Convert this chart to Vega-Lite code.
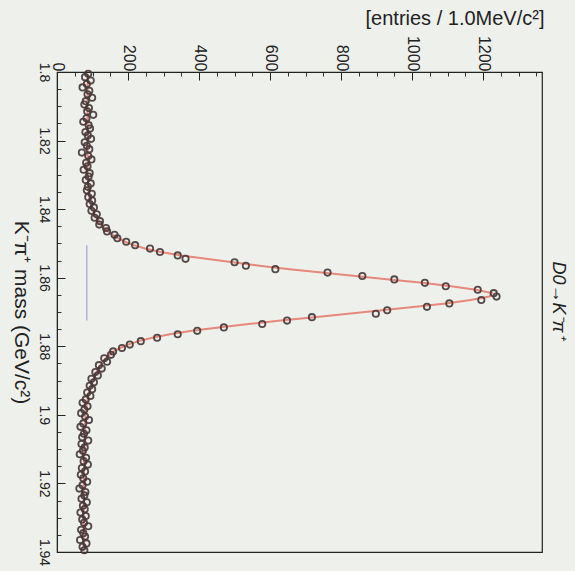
{
  "$schema": "https://vega.github.io/schema/vega-lite/v6.json",
  "width": 485,
  "height": 480,
  "autosize": {"type": "none"},
  "padding": {"left": 57, "top": 72, "right": 33, "bottom": 19},
  "background": "#eef0ec",
  "config": {
    "font": "Liberation Sans",
    "view": {"stroke": "#222222", "strokeWidth": 1.2, "fill": "#eef0ec"}
  },
  "title": {
    "text": "D0→K⁻π⁺",
    "orient": "right",
    "anchor": "middle",
    "fontSize": 18,
    "fontStyle": "italic",
    "fontWeight": "normal",
    "color": "#222222",
    "offset": 5,
    "dx": -12
  },
  "datasets": {
    "bg": [
      {"m": 1.8505, "bg": 84},
      {"m": 1.8725, "bg": 84}
    ],
    "mass": [
      {"m": 1.8005, "n": 88, "fit": 86}, {"m": 1.8015, "n": 79, "fit": 86}, {"m": 1.8025, "n": 95, "fit": 86}, {"m": 1.8035, "n": 84, "fit": 86},
      {"m": 1.8045, "n": 72, "fit": 86}, {"m": 1.8055, "n": 91, "fit": 86}, {"m": 1.8065, "n": 86, "fit": 86}, {"m": 1.8075, "n": 99, "fit": 86},
      {"m": 1.8085, "n": 81, "fit": 86}, {"m": 1.8095, "n": 77, "fit": 86}, {"m": 1.8105, "n": 90, "fit": 86}, {"m": 1.8115, "n": 85, "fit": 86},
      {"m": 1.8125, "n": 102, "fit": 86}, {"m": 1.8135, "n": 83, "fit": 86}, {"m": 1.8145, "n": 74, "fit": 86}, {"m": 1.8155, "n": 89, "fit": 86},
      {"m": 1.8165, "n": 93, "fit": 86}, {"m": 1.8175, "n": 80, "fit": 86}, {"m": 1.8185, "n": 87, "fit": 86}, {"m": 1.8195, "n": 96, "fit": 86},
      {"m": 1.8205, "n": 78, "fit": 86}, {"m": 1.8215, "n": 84, "fit": 86}, {"m": 1.8225, "n": 91, "fit": 86}, {"m": 1.8235, "n": 70, "fit": 86},
      {"m": 1.8245, "n": 88, "fit": 86}, {"m": 1.8255, "n": 97, "fit": 86}, {"m": 1.8265, "n": 82, "fit": 86}, {"m": 1.8275, "n": 86, "fit": 86},
      {"m": 1.8285, "n": 75, "fit": 86}, {"m": 1.8295, "n": 92, "fit": 86}, {"m": 1.8305, "n": 89, "fit": 87}, {"m": 1.8315, "n": 81, "fit": 87},
      {"m": 1.8325, "n": 95, "fit": 88}, {"m": 1.8335, "n": 87, "fit": 88}, {"m": 1.8345, "n": 84, "fit": 89}, {"m": 1.8355, "n": 98, "fit": 90},
      {"m": 1.8365, "n": 88, "fit": 91}, {"m": 1.8375, "n": 99, "fit": 93}, {"m": 1.8385, "n": 92, "fit": 95}, {"m": 1.8395, "n": 104, "fit": 98},
      {"m": 1.8405, "n": 97, "fit": 102}, {"m": 1.8415, "n": 112, "fit": 106}, {"m": 1.8425, "n": 106, "fit": 111}, {"m": 1.8435, "n": 121, "fit": 117},
      {"m": 1.8445, "n": 119, "fit": 124}, {"m": 1.8455, "n": 138, "fit": 133}, {"m": 1.8465, "n": 141, "fit": 144}, {"m": 1.8475, "n": 162, "fit": 157},
      {"m": 1.8485, "n": 170, "fit": 173}, {"m": 1.8495, "n": 195, "fit": 192}, {"m": 1.8505, "n": 220, "fit": 216}, {"m": 1.8515, "n": 262, "fit": 248},
      {"m": 1.8525, "n": 290, "fit": 292}, {"m": 1.8535, "n": 340, "fit": 350}, {"m": 1.8545, "n": 362, "fit": 420}, {"m": 1.8555, "n": 500, "fit": 495},
      {"m": 1.8565, "n": 532, "fit": 570}, {"m": 1.8575, "n": 615, "fit": 655}, {"m": 1.8585, "n": 762, "fit": 745}, {"m": 1.8595, "n": 860, "fit": 840},
      {"m": 1.8605, "n": 950, "fit": 935}, {"m": 1.8615, "n": 1036, "fit": 1030}, {"m": 1.8625, "n": 1095, "fit": 1110}, {"m": 1.8635, "n": 1185, "fit": 1180},
      {"m": 1.8645, "n": 1230, "fit": 1225}, {"m": 1.8655, "n": 1238, "fit": 1218}, {"m": 1.8665, "n": 1195, "fit": 1165}, {"m": 1.8675, "n": 1105, "fit": 1095},
      {"m": 1.8685, "n": 1042, "fit": 1010}, {"m": 1.8695, "n": 930, "fit": 915}, {"m": 1.8705, "n": 898, "fit": 820}, {"m": 1.8715, "n": 718, "fit": 725},
      {"m": 1.8725, "n": 648, "fit": 630}, {"m": 1.8735, "n": 578, "fit": 540}, {"m": 1.8745, "n": 470, "fit": 455}, {"m": 1.8755, "n": 395, "fit": 380},
      {"m": 1.8765, "n": 340, "fit": 318}, {"m": 1.8775, "n": 282, "fit": 268}, {"m": 1.8785, "n": 236, "fit": 230}, {"m": 1.8795, "n": 205, "fit": 200},
      {"m": 1.8805, "n": 183, "fit": 178}, {"m": 1.8815, "n": 158, "fit": 161}, {"m": 1.8825, "n": 152, "fit": 148}, {"m": 1.8835, "n": 133, "fit": 138},
      {"m": 1.8845, "n": 141, "fit": 130}, {"m": 1.8855, "n": 118, "fit": 123}, {"m": 1.8865, "n": 126, "fit": 117}, {"m": 1.8875, "n": 108, "fit": 112},
      {"m": 1.8885, "n": 115, "fit": 107}, {"m": 1.8895, "n": 97, "fit": 103}, {"m": 1.8905, "n": 104, "fit": 99}, {"m": 1.8915, "n": 92, "fit": 96},
      {"m": 1.8925, "n": 99, "fit": 93}, {"m": 1.8935, "n": 85, "fit": 90}, {"m": 1.8945, "n": 94, "fit": 88}, {"m": 1.8955, "n": 81, "fit": 86},
      {"m": 1.8965, "n": 72, "fit": 84}, {"m": 1.8975, "n": 86, "fit": 83}, {"m": 1.8985, "n": 77, "fit": 82}, {"m": 1.8995, "n": 68, "fit": 81},
      {"m": 1.9005, "n": 79, "fit": 80}, {"m": 1.9015, "n": 90, "fit": 80}, {"m": 1.9025, "n": 74, "fit": 79}, {"m": 1.9035, "n": 66, "fit": 79},
      {"m": 1.9045, "n": 83, "fit": 78}, {"m": 1.9055, "n": 76, "fit": 78}, {"m": 1.9065, "n": 71, "fit": 78}, {"m": 1.9075, "n": 88, "fit": 77},
      {"m": 1.9085, "n": 69, "fit": 77}, {"m": 1.9095, "n": 78, "fit": 77}, {"m": 1.9105, "n": 73, "fit": 77}, {"m": 1.9115, "n": 64, "fit": 76},
      {"m": 1.9125, "n": 82, "fit": 76}, {"m": 1.9135, "n": 75, "fit": 76}, {"m": 1.9145, "n": 87, "fit": 76}, {"m": 1.9155, "n": 70, "fit": 76},
      {"m": 1.9165, "n": 79, "fit": 76}, {"m": 1.9175, "n": 67, "fit": 76}, {"m": 1.9185, "n": 74, "fit": 76}, {"m": 1.9195, "n": 85, "fit": 75},
      {"m": 1.9205, "n": 72, "fit": 75}, {"m": 1.9215, "n": 63, "fit": 75}, {"m": 1.9225, "n": 80, "fit": 75}, {"m": 1.9235, "n": 77, "fit": 75},
      {"m": 1.9245, "n": 69, "fit": 75}, {"m": 1.9255, "n": 84, "fit": 75}, {"m": 1.9265, "n": 73, "fit": 75}, {"m": 1.9275, "n": 78, "fit": 75},
      {"m": 1.9285, "n": 66, "fit": 75}, {"m": 1.9295, "n": 81, "fit": 75}, {"m": 1.9305, "n": 71, "fit": 75}, {"m": 1.9315, "n": 76, "fit": 75},
      {"m": 1.9325, "n": 88, "fit": 75}, {"m": 1.9335, "n": 68, "fit": 75}, {"m": 1.9345, "n": 74, "fit": 75}, {"m": 1.9355, "n": 79, "fit": 75},
      {"m": 1.9365, "n": 65, "fit": 75}, {"m": 1.9375, "n": 83, "fit": 75}, {"m": 1.9385, "n": 72, "fit": 75}, {"m": 1.9395, "n": 77, "fit": 75}
    ]
  },
  "layer": [
    {
      "data": {"name": "bg"},
      "mark": {"type": "line", "color": "#a4a2dc", "strokeWidth": 1.2},
      "encoding": {
        "x": {
          "field": "bg", "type": "quantitative",
          "scale": {"domain": [0, 1366], "nice": false, "zero": false},
          "axis": {
            "orient": "top", "values": [50,100,150,250,300,350,450,500,550,650,700,750,850,900,950,1050,1100,1150,1250,1300,1350],
            "labels": false, "domain": false, "grid": false, "tickSize": -4, "tickColor": "#333333", "title": null
          }
        },
        "y": {
          "field": "m", "type": "quantitative",
          "scale": {"domain": [1.8, 1.94], "nice": false, "zero": false, "reverse": true},
          "axis": {
            "orient": "left", "values": [1.805,1.81,1.815,1.825,1.83,1.835,1.845,1.85,1.855,1.865,1.87,1.875,1.885,1.89,1.895,1.905,1.91,1.915,1.925,1.93,1.935],
            "labels": false, "domain": false, "grid": false, "tickSize": -4, "tickColor": "#333333", "title": null
          }
        },
        "order": {"field": "m", "type": "quantitative"}
      }
    },
    {
      "data": {"name": "mass"},
      "mark": {"type": "line", "color": "#e8887a", "strokeWidth": 2},
      "encoding": {
        "x": {"field": "fit", "type": "quantitative", "axis": null},
        "y": {"field": "m", "type": "quantitative", "axis": null},
        "order": {"field": "m", "type": "quantitative"}
      }
    },
    {
      "data": {"name": "mass"},
      "mark": {"type": "point", "shape": "circle", "filled": false, "size": 40, "strokeWidth": 1.8, "color": "#463838", "opacity": 0.9},
      "encoding": {
        "x": {
          "field": "n", "type": "quantitative",
          "axis": {
            "orient": "top", "values": [0, 200, 400, 600, 800, 1000, 1200], "format": "d",
            "labelAngle": 90, "labelFontSize": 16, "labelColor": "#222222", "labelPadding": 9,
            "labelOverlap": false, "labelFlush": false,
            "tickSize": -8, "tickColor": "#222222", "domainColor": "#222222", "grid": false,
            "title": "[entries / 1.0MeV/c²]", "titleAngle": 0, "titleAlign": "right", "titleAnchor": "end",
            "titleX": 487, "titleY": -44, "titleFontSize": 20, "titleFontWeight": "normal", "titleColor": "#222222"
          }
        },
        "y": {
          "field": "m", "type": "quantitative",
          "axis": {
            "orient": "left", "values": [1.8, 1.82, 1.84, 1.86, 1.88, 1.9, 1.92, 1.94], "format": "~g",
            "labelAngle": 90, "labelFontSize": 14, "labelColor": "#222222", "labelPadding": 15,
            "labelOverlap": false, "labelFlush": false,
            "tickSize": -8, "tickColor": "#222222", "domainColor": "#222222", "grid": false,
            "title": "K⁻π⁺ mass (GeV/c²)", "titleAngle": 90, "titleX": -37, "titleY": 240,
            "titleAlign": "center", "titleBaseline": "middle",
            "titleFontSize": 21, "titleFontWeight": "normal", "titleColor": "#222222"
          }
        }
      }
    }
  ],
  "resolve": {"axis": {"x": "independent", "y": "independent"}}
}
